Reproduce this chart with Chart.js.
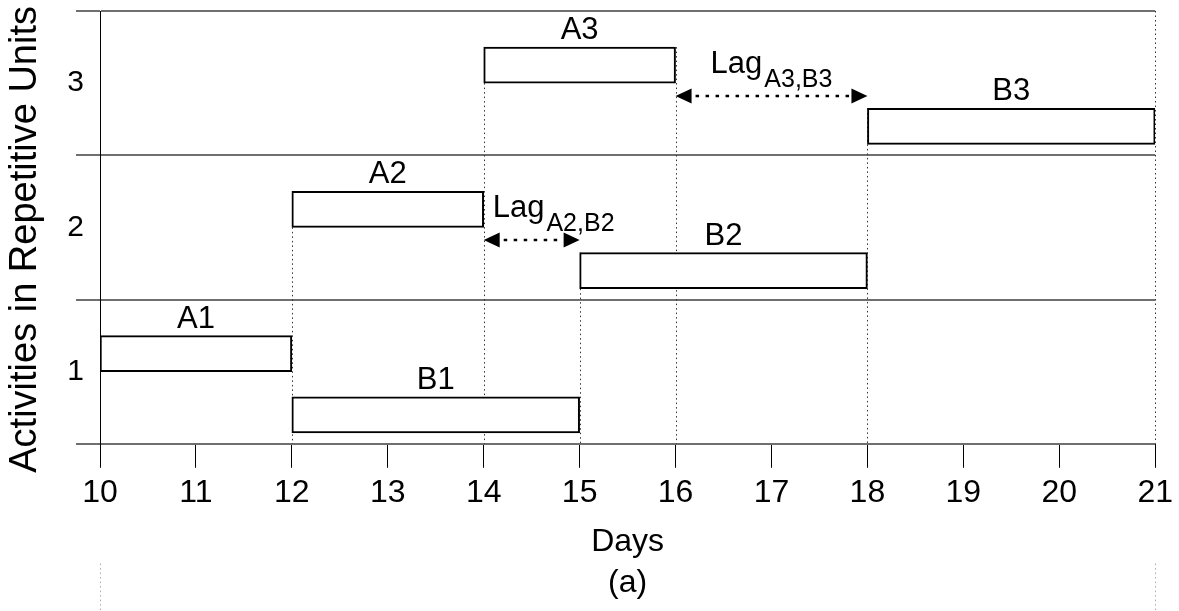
<!DOCTYPE html>
<html>
<head>
<meta charset="utf-8">
<script src="https://cdn.jsdelivr.net/npm/chart.js@4.4.1/dist/chart.umd.min.js"></script>
<style>
  html, body { margin: 0; padding: 0; background: #fff; }
</style>
</head>
<body>
<canvas id="myChart" width="1179" height="611"></canvas>
<script>
// repetitive units (rows) and the two activities, in days
const units = [1, 2, 3];
const unitLabels = ['1', '2', '3'];
const aNames = ['A1', 'A2', 'A3'];
const aStart = [10, 12, 14];
const aEnd = [12, 14, 16];
const bNames = ['B1', 'B2', 'B3'];
const bStart = [12, 15, 18];
const bEnd = [15, 18, 21];
// lags marked with arrows (end of A -> start of B)
const lagUnits = [2, 3];
const lagNames = ['A2,B2', 'A3,B3'];
const dayMin = 10;
const dayMax = 21;
const yTitle = 'Activities in Repetitive Units';

// where things sit inside a unit row (layout only)
const A_POS = 0.125;
const B_POS = -0.3;
const LAG_POS = -0.09;
const BAR_PX = 36;
const TICK_LEN = 24;
const FONT = '"Liberation Sans", Arial, sans-serif';

const boxStyle = {
  grouped: false,
  barThickness: BAR_PX,
  backgroundColor: '#ffffff',
  borderColor: '#000000',
  borderWidth: 2,
  borderSkipped: false
};
const aData = units.map((u, i) => ({ x: [aStart[i], aEnd[i]], y: u + A_POS }));
const bData = units.map((u, i) => ({ x: [bStart[i], bEnd[i]], y: u + B_POS }));

const ganttExtras = {
  id: 'ganttExtras',
  beforeDatasetsDraw(chart) {
    const { ctx, chartArea, scales: { x, y } } = chart;
    // dotted guides: from the highest box touching a day down to the axis
    const tops = {};
    const addEdge = (day, top) => {
      if (day === dayMin) return;
      tops[day] = Math.min(tops[day] === undefined ? Infinity : tops[day], top);
    };
    units.forEach((u, i) => {
      const aTop = y.getPixelForValue(u + A_POS) - BAR_PX / 2;
      const bTop = y.getPixelForValue(u + B_POS) - BAR_PX / 2;
      addEdge(aStart[i], aTop); addEdge(aEnd[i], aTop);
      addEdge(bStart[i], bTop); addEdge(bEnd[i], bTop);
    });
    tops[dayMax] = chartArea.top;
    ctx.save();
    ctx.strokeStyle = '#333';
    ctx.lineWidth = 1;
    ctx.setLineDash([1.5, 3]);
    Object.keys(tops).forEach(d => {
      const px = Math.round(x.getPixelForValue(+d)) + 0.5;
      ctx.beginPath();
      ctx.moveTo(px, tops[d]);
      ctx.lineTo(px, chartArea.bottom);
      ctx.stroke();
    });
    // faint guides running on into the panel below
    ctx.strokeStyle = '#aaa';
    [dayMin, dayMax].forEach(d => {
      const px = Math.round(x.getPixelForValue(d)) + 0.5;
      ctx.beginPath();
      ctx.moveTo(px, x.bottom + 2);
      ctx.lineTo(px, chart.height);
      ctx.stroke();
    });
    ctx.restore();
  },
  afterDatasetsDraw(chart) {
    const { ctx, chartArea, scales: { x, y } } = chart;
    ctx.save();
    ctx.fillStyle = '#000';
    ctx.strokeStyle = '#000';
    ctx.font = '31px ' + FONT;
    ctx.textAlign = 'center';
    ctx.textBaseline = 'alphabetic';
    units.forEach((u, i) => {
      const aTop = y.getPixelForValue(u + A_POS) - BAR_PX / 2;
      const bTop = y.getPixelForValue(u + B_POS) - BAR_PX / 2;
      ctx.fillText(aNames[i], x.getPixelForValue((aStart[i] + aEnd[i]) / 2), aTop - 8);
      ctx.fillText(bNames[i], x.getPixelForValue((bStart[i] + bEnd[i]) / 2), bTop - 8);
    });

    // lag arrows
    lagUnits.forEach((u, k) => {
      const i = units.indexOf(u);
      const x1 = x.getPixelForValue(aEnd[i]);
      const x2 = x.getPixelForValue(bStart[i]);
      const py = Math.round(y.getPixelForValue(u + LAG_POS));
      ctx.lineWidth = 2.5;
      ctx.setLineDash([3.5, 6.5]);
      ctx.beginPath();
      ctx.moveTo(x1 + 20, py);
      ctx.lineTo(x2 - 16, py);
      ctx.stroke();
      ctx.setLineDash([]);
      [[x1, 1], [x2, -1]].forEach(([hx, dir]) => {
        ctx.beginPath();
        ctx.moveTo(hx, py);
        ctx.lineTo(hx + dir * 16, py - 7.5);
        ctx.lineTo(hx + dir * 16, py + 7.5);
        ctx.closePath();
        ctx.fill();
      });
      ctx.textAlign = 'left';
      ctx.font = '31px ' + FONT;
      const wLag = ctx.measureText('Lag').width;
      ctx.font = '25px ' + FONT;
      const wSub = ctx.measureText(lagNames[k]).width;
      const w = wLag + 2 + wSub;
      const lx = (x2 - x1) > w + 20 ? (x1 + x2) / 2 - w / 2 : x1 + 9;
      ctx.font = '31px ' + FONT;
      ctx.fillText('Lag', lx, py - 23);
      ctx.font = '25px ' + FONT;
      ctx.fillText(lagNames[k], lx + wLag + 2, py - 9);
    });

    // y axis title, centred on the axis line incl. the tick stubs below it
    ctx.save();
    ctx.translate(26, (chartArea.top + chartArea.bottom + TICK_LEN) / 2);
    ctx.rotate(-Math.PI / 2);
    ctx.textAlign = 'center';
    ctx.textBaseline = 'middle';
    ctx.font = '38px ' + FONT;
    ctx.fillText(yTitle, 0, 0);
    ctx.restore();
    ctx.restore();
  }
};

const ctx = document.getElementById('myChart').getContext('2d');
const myChart = new Chart(ctx, {
  type: 'bar',
  data: {
    datasets: [
      Object.assign({ label: 'A', data: aData }, boxStyle),
      Object.assign({ label: 'B', data: bData }, boxStyle)
    ]
  },
  options: {
    indexAxis: 'y',
    responsive: false,
    animation: false,
    layout: { padding: { left: 66, right: 23, top: 11, bottom: 9 } },
    scales: {
      x: {
        type: 'linear',
        min: dayMin,
        max: dayMax,
        border: { display: false },
        grid: { drawOnChartArea: false, drawTicks: true, tickLength: TICK_LEN, color: '#000', lineWidth: 1 },
        ticks: { stepSize: 1, padding: 6, color: '#000', font: { family: FONT, size: 32 } },
        title: { display: true, text: 'Days', color: '#000', font: { family: FONT, size: 32 }, padding: { top: 5, bottom: 0 } }
      },
      y: {
        type: 'linear',
        min: 0.5,
        max: 3.5,
        offset: false,
        afterBuildTicks: scale => {
          const t = [0.5];
          units.forEach(u => { t.push(u); t.push(u + 0.5); });
          scale.ticks = t.map(v => ({ value: v }));
        },
        afterFit: scale => { scale.width = 34; },
        border: { display: true, color: '#000', width: 1 },
        grid: {
          offset: false,
          tickLength: TICK_LEN,
          lineWidth: 2,
          color: c => (c.tick && c.tick.value % 1 !== 0) ? '#6f6f6f' : 'rgba(0,0,0,0)'
        },
        ticks: {
          autoSkip: false,
          padding: -8,
          color: '#000',
          font: { family: FONT, size: 30 },
          callback: v => {
            const i = units.indexOf(v);
            return i >= 0 ? unitLabels[i] : '';
          }
        }
      }
    },
    plugins: {
      legend: { display: false },
      tooltip: { enabled: false },
      title: {
        display: true, text: '(a)', position: 'bottom', fullSize: false,
        color: '#000', font: { family: FONT, size: 32, weight: 'normal' }, padding: { top: 2, bottom: 0 }
      }
    }
  },
  plugins: [ganttExtras]
});
</script>
</body>
</html>
